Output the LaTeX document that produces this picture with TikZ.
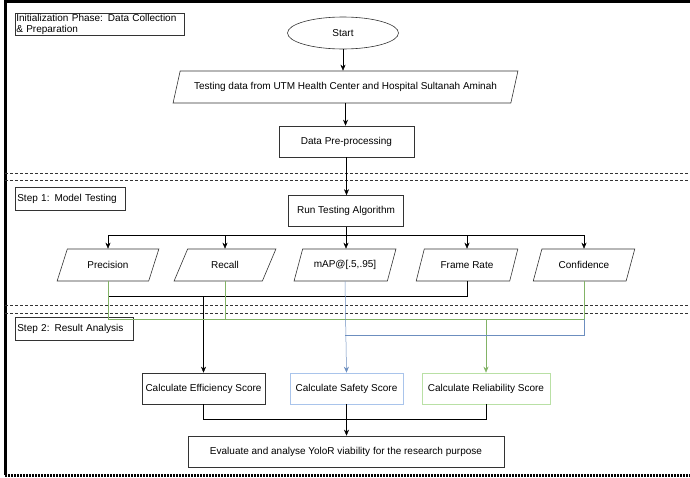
\documentclass[tikz,border=0pt]{standalone}
\usepackage{fontspec}
\setmainfont{Liberation Sans}
\usepackage{tikz}
\usetikzlibrary{arrows.meta, shapes.geometric, positioning}
\definecolor{lineblue}{HTML}{6C8EBF}
\definecolor{linegreen}{HTML}{82B366}
\definecolor{boxblue}{HTML}{A9C4EB}
\definecolor{boxgreen}{HTML}{B9E0A5}
\definecolor{edgegray}{HTML}{333333}

\begin{document}
\begin{tikzpicture}[x=1pt, y=-1pt, font=\fontsize{10}{12}\selectfont,
  procbox/.style={draw=edgegray, line width=0.6pt, minimum height=31pt, inner sep=2pt},
  iobox/.style={draw=edgegray, line width=0.6pt, trapezium, trapezium left angle=60,
    trapezium right angle=120, trapezium stretches=true, minimum height=32pt,
    minimum width=102pt, inner sep=1pt},
  phaselabel/.style={draw=edgegray, line width=0.6pt, align=left, anchor=north west,
    inner sep=1pt, font=\fontsize{10}{10.5}\selectfont},
  flow/.style={-{Stealth[length=6pt, width=5pt]}},
  greenline/.style={draw=linegreen, line width=0.5pt},
  blueline/.style={draw=lineblue, line width=0.5pt}]
  \useasboundingbox (0,0) rectangle (690,477);

  % frame
  \draw[line width=3pt] (690,1.5) -- (5,1.5) -- (5,475);
  \draw[line width=3pt, dash pattern=on 2pt off 1pt] (5,475) -- (690,475);

  % phase separators
  \foreach \y in {173,180,305,313}{
    \draw[edgegray, line width=0.5pt, dash pattern=on 3pt off 2pt] (5,\y) -- (690,\y);
  }

  % phase labels
  \node[phaselabel, text width=167pt, minimum height=20pt] (initlabel) at (15,13)
    {Initialization Phase: Data Collection\\\& Preparation};
  \node[phaselabel, minimum width=110pt, minimum height=23pt, text width=106pt] (steponelabel) at (15,187)
    {Step 1: Model Testing};
  \node[phaselabel, minimum width=118pt, minimum height=23pt, text width=114pt] (steptwolabel) at (15,317)
    {Step 2: Result Analysis};

  % initialization phase
  \node[draw=edgegray, line width=0.6pt, ellipse, minimum width=111pt, minimum height=32pt] (start) at (343,33) {Start};
  \node[iobox, minimum width=345pt] (testdata) at (345.5,87)
    {Testing data from UTM Health Center and Hospital Sultanah Aminah};
  \node[procbox, minimum width=135pt] (prep) at (346.5,141.5) {Data Pre-processing};

  % step 1
  \node[procbox, minimum width=115pt] (run) at (346,211) {Run Testing Algorithm};
  \node[iobox] (prec) at (108,265) {Precision};
  \node[iobox] (rec) at (225,265) {Recall};
  \node[iobox] (map) at (345,265) {mAP@[.5,.95]};
  \node[iobox] (fps) at (467,265) {Frame Rate};
  \node[iobox] (conf) at (584,265) {Confidence};

  % step 2
  \node[procbox, minimum width=123pt] (eff) at (203.5,388.5) {Calculate Efficiency Score};
  \node[procbox, draw=boxblue, minimum width=113pt] (safe) at (346.5,388.5) {Calculate Safety Score};
  \node[procbox, draw=boxgreen, minimum width=128pt] (rel) at (486,388.5) {Calculate Reliability Score};
  \node[procbox, minimum width=316pt] (eval) at (346,451.5)
    {Evaluate and analyse YoloR viability for the research purpose};

  % main flow
  \draw[flow] (start.south) -- (start.south |- testdata.north);
  \draw[flow] (testdata.south) -- (testdata.south |- prep.north);
  \draw[flow] (prep.south) -- (prep.south |- run.north);
  \draw (run.south) -- ++(0,8) coordinate (fork);
  \draw[flow] (fork) -- (fork |- map.north);
  \foreach \n in {prec,rec,fps,conf}{
    \draw[flow] (fork) -| (\n.north);
  }

  % efficiency: precision + frame rate
  \draw (prec.south) -- ++(0,15) coordinate (effjoin) -| (fps.south);
  \draw[flow] (effjoin -| eff.north) -- (eff.north);

  % reliability: precision + recall + confidence
  \coordinate (relbus) at (0,319);
  \coordinate (safebus) at (0,335);
  \draw[greenline] (prec.south) |- (relbus -| conf.south) -- (conf.south);
  \draw[greenline] (rec.south) -- (rec.south |- relbus);
  \draw[greenline, flow] (relbus -| rel.north) -- (rel.north);

  % safety: mAP + confidence
  \draw[blueline] (relbus -| conf.south) |- (safebus -| map.south);
  \draw[blueline, flow] (map.south) -- (safe.north);

  % evaluation
  \draw (eff.south) -- ++(0,15) coordinate (evaljoin) -| (rel.south);
  \draw[flow] (safe.south) -- (safe.south |- eval.north);
\end{tikzpicture}
\end{document}
